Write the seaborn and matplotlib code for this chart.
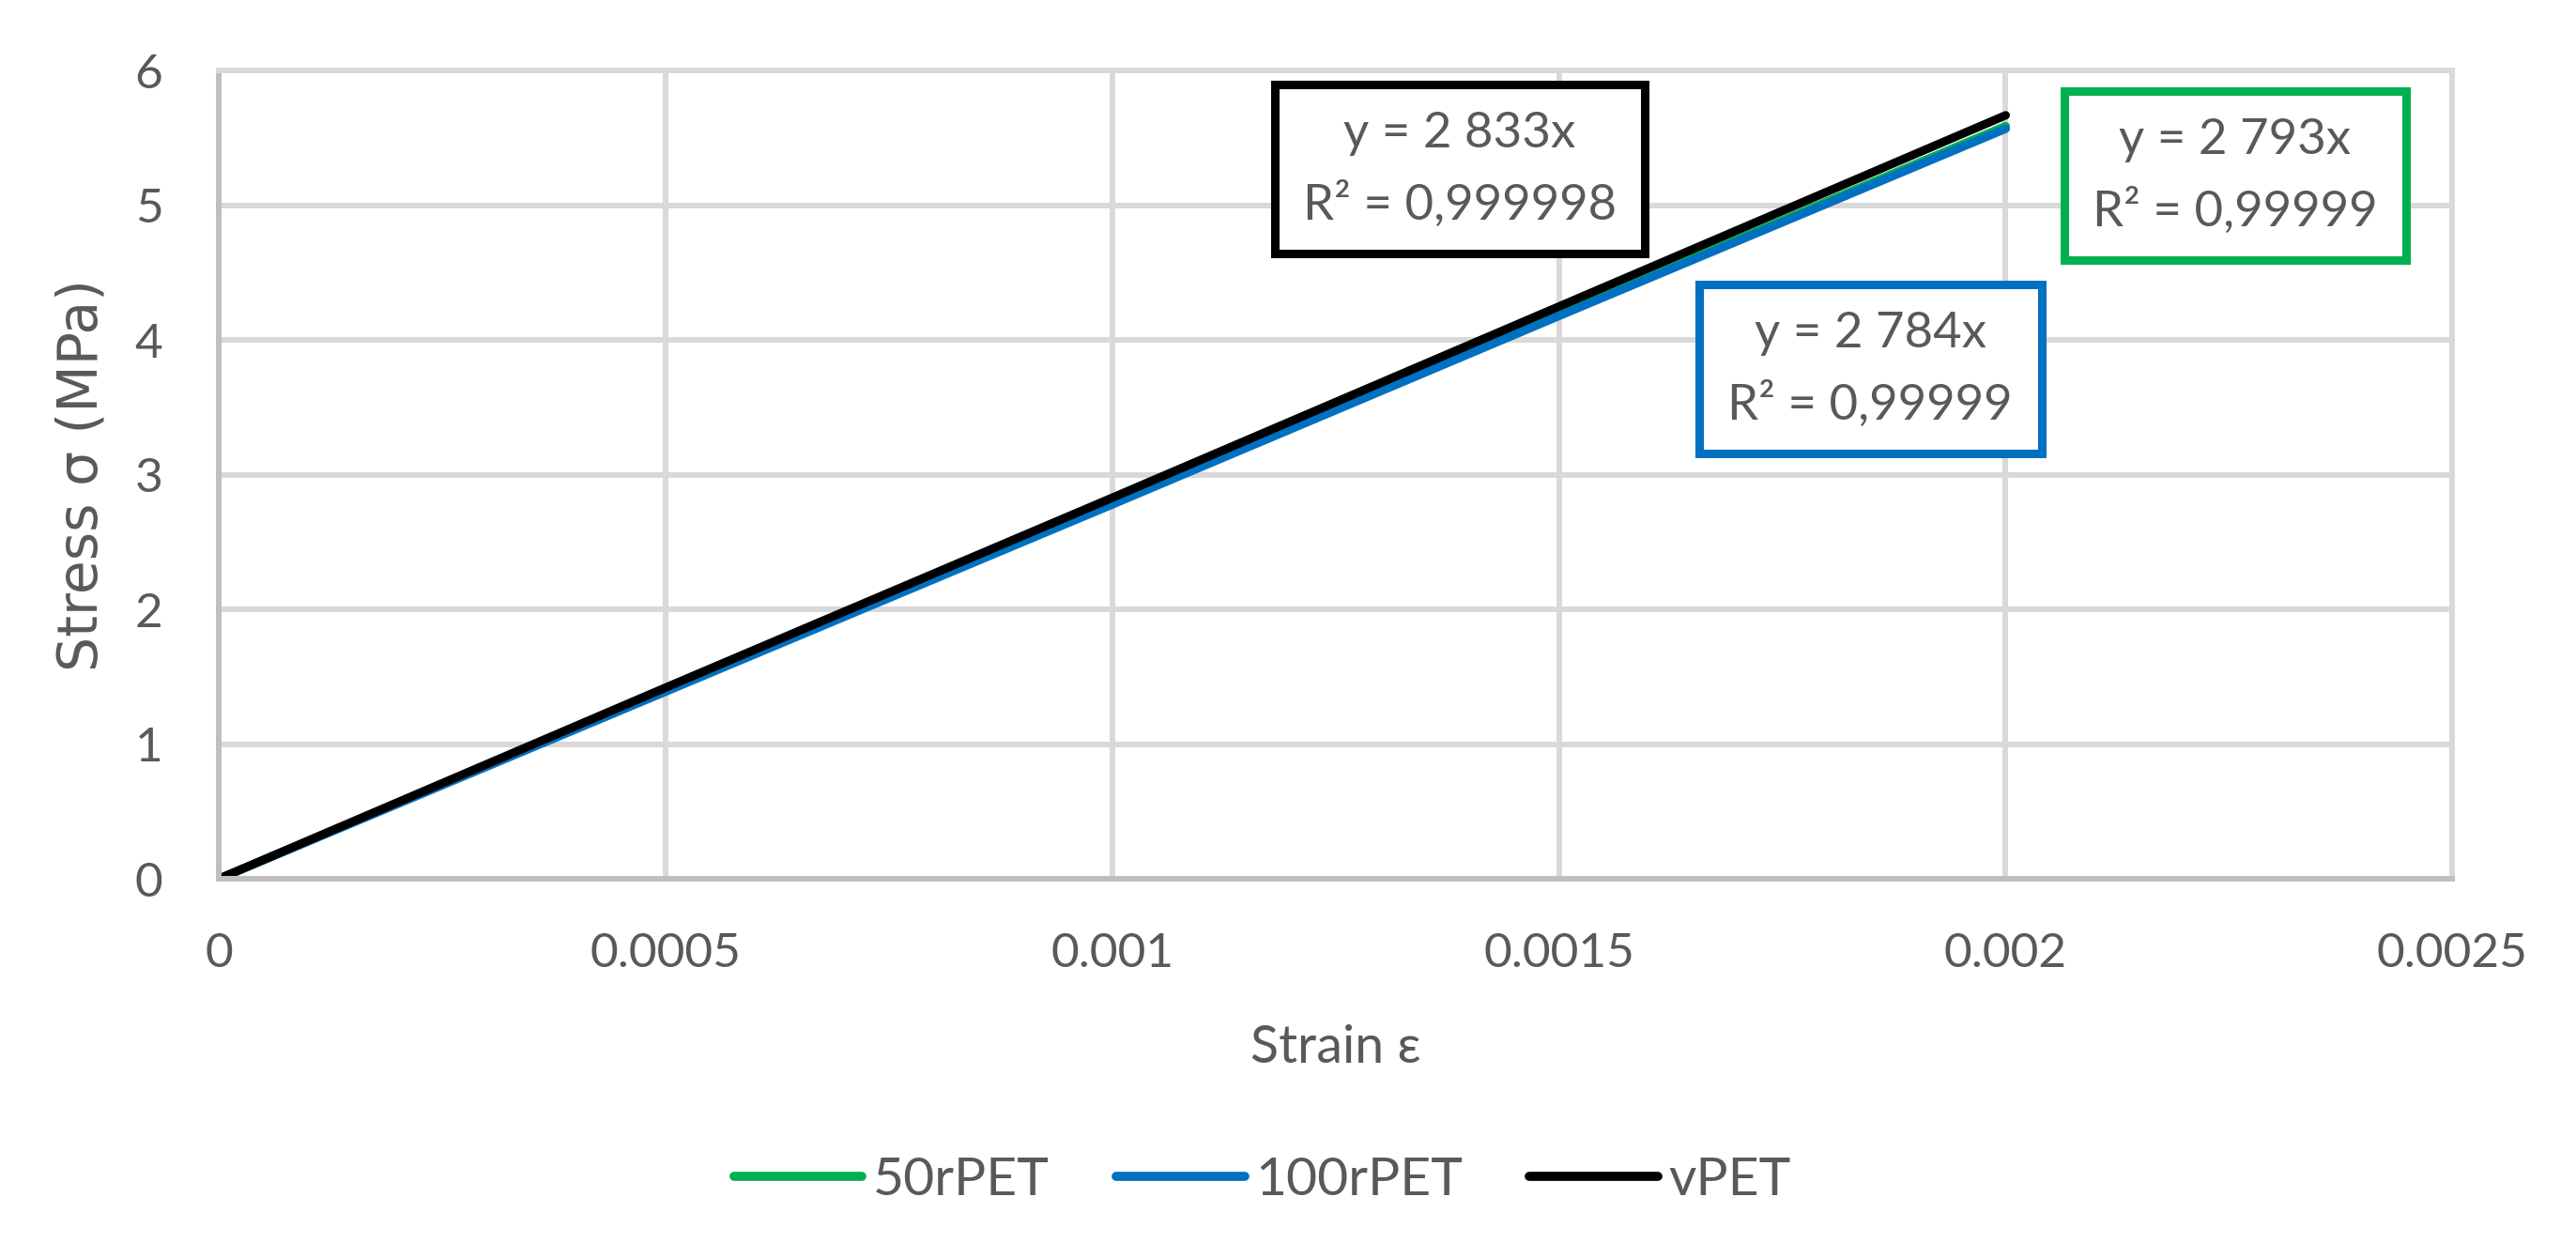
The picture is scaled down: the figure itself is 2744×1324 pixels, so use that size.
import pandas as pd
import matplotlib.pyplot as plt
import seaborn as sns
from matplotlib.patches import Rectangle

# values
strain = [0, 0.0005, 0.001, 0.0015, 0.002]
stress_50rpet = [0, 1.40, 2.79, 4.19, 5.59]
stress_100rpet = [0, 1.39, 2.78, 4.18, 5.57]
stress_vpet = [0, 1.42, 2.83, 4.25, 5.67]
materials = ["50rPET", "100rPET", "vPET"]
colors = ["#00B050", "#0070C0", "#000000"]
fit_labels = [("y = 2 793x", "R² = 0,99999"),
              ("y = 2 784x", "R² = 0,99999"),
              ("y = 2 833x", "R² = 0,999998")]
x_ticks = [0, 0.0005, 0.001, 0.0015, 0.002, 0.0025]
x_tick_labels = ["0", "0.0005", "0.001", "0.0015", "0.002", "0.0025"]
y_ticks = [0, 1, 2, 3, 4, 5, 6]

df = pd.DataFrame({
    "Strain": strain * 3,
    "Stress": stress_50rpet + stress_100rpet + stress_vpet,
    "Material": [m for m in materials for _ in strain],
})

sns.set_style("white")
plt.rcParams["font.family"] = ["Lato", "DejaVu Sans"]
TEXT = "#595959"
GRID = "#D9D9D9"
AXIS = "#BFBFBF"

fig = plt.figure(figsize=(27.44, 13.24), dpi=100)
ax = fig.add_axes([0.085, 0.293, 0.867, 0.650])

palette = dict(zip(materials, colors))
sns.lineplot(data=df, x="Strain", y="Stress", hue="Material", hue_order=materials,
             palette=palette, linewidth=6.5, ax=ax, legend=False, sort=False)

ax.set_xlim(0, 0.0025)
ax.set_ylim(0, 6)
ax.set_xticks(x_ticks)
ax.set_xticklabels(x_tick_labels)
ax.set_yticks(y_ticks)
ax.grid(True, color=GRID, linewidth=4.3)
ax.set_axisbelow(True)
for side in ["top", "right"]:
    ax.spines[side].set_color(GRID)
    ax.spines[side].set_linewidth(4.3)
for side in ["left", "bottom"]:
    ax.spines[side].set_color(AXIS)
    ax.spines[side].set_linewidth(4.3)
ax.tick_params(axis="both", length=0, labelsize=37, labelcolor=TEXT)
ax.tick_params(axis="y", pad=43)
ax.tick_params(axis="x", pad=41)

ax.set_xlabel("Strain ε", fontsize=40, color=TEXT, va="center")
ax.xaxis.set_label_coords(0.5, -0.21)
ax.set_ylabel("Stress σ (MPa)", fontsize=42, color=TEXT, va="center",
              family=["DejaVu Sans"])
ax.yaxis.set_label_coords(-0.0613, 0.5)

# trendline equation boxes (axes fraction: left, bottom, width, height)
boxes = [(0.8261, 0.7654, 0.1533, 0.2090),
         (0.6626, 0.5261, 0.1534, 0.2091),
         (0.4727, 0.7735, 0.1655, 0.2091)]
for (x0, y0, w, h), col, (eq, r2) in zip(boxes, colors, fit_labels):
    ax.add_patch(Rectangle((x0, y0), w, h, transform=ax.transAxes, fill=True,
                           facecolor="white", edgecolor=col, linewidth=6.5,
                           zorder=5, clip_on=False))
    cx, cy = x0 + w / 2, y0 + h / 2
    ax.text(cx, cy + 0.044, eq, transform=ax.transAxes, ha="center", va="center",
            fontsize=38, color=TEXT, zorder=6)
    ax.text(cx, cy - 0.044, r2, transform=ax.transAxes, ha="center", va="center",
            fontsize=38, color=TEXT, zorder=6)

handles = [plt.Line2D([], [], color=c, linewidth=7, solid_capstyle="round") for c in colors]
fig.legend(handles, materials, loc="center", bbox_to_anchor=(0.49, 0.05), ncol=3,
           frameon=False, fontsize=41, labelcolor=TEXT, handlelength=2.4,
           handletextpad=0.2, columnspacing=1.25)

fig.savefig("out.png", dpi=100)
